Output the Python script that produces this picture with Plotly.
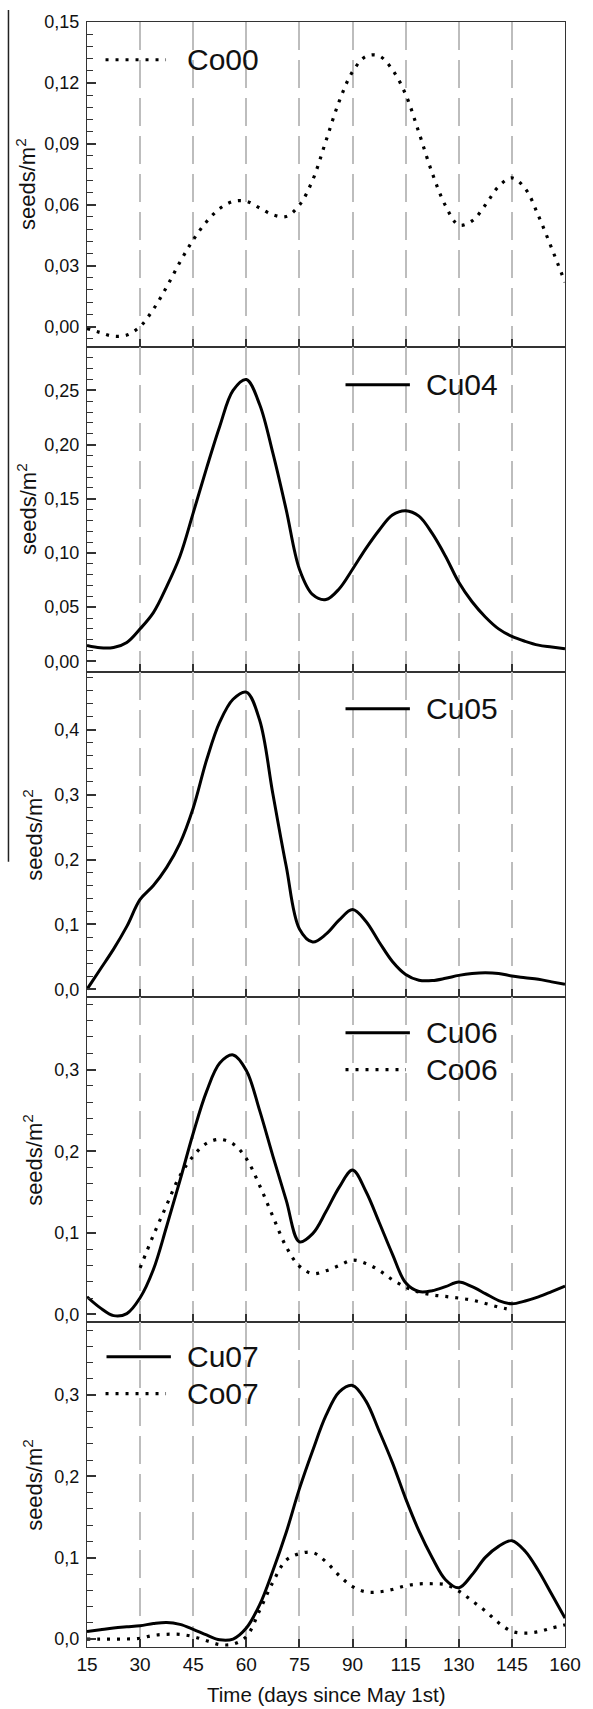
import numpy as np
import plotly.graph_objects as go
from plotly.subplots import make_subplots

# Axis tick days (evenly spaced on the axis, note the 90 -> 115 jump)
TICK_DAYS = [15, 30, 45, 60, 75, 90, 115, 130, 145, 160]

# Sampling days of the seed-rain curves
SAMPLE_DAYS = [15, 18.75, 22.5, 26.25, 30, 33.75, 37.5, 41.25, 45, 48.75,
               52.5, 56.25, 60, 63.75, 67.5, 71.25, 75, 78.75, 82.5, 86.25,
               90, 96.25, 102.5, 108.75, 115, 118.75, 122.5, 126.25, 130,
               133.75, 137.5, 141.25, 145, 148.75, 152.5, 156.25, 160]

# seeds/m2 per series
CO00 = [-0.001, -0.003, -0.0048, -0.0042, 0.0, 0.0085, 0.0195, 0.0317, 0.0427,
        0.0516, 0.0581, 0.0616, 0.0617, 0.0584, 0.0550, 0.0542, 0.0598, 0.0722,
        0.0915, 0.1110, 0.1255, 0.1330, 0.1333, 0.1265, 0.1143, 0.0955, 0.0756,
        0.0595, 0.0500, 0.0520, 0.0598, 0.0690, 0.0732, 0.0680, 0.0545, 0.0385,
        0.0218]

CU04 = [0.0147, 0.0125, 0.0128, 0.0175, 0.030, 0.045, 0.069, 0.097, 0.137,
        0.178, 0.217, 0.250, 0.260, 0.237, 0.192, 0.140, 0.085, 0.0615, 0.057,
        0.067, 0.085, 0.104, 0.121, 0.135, 0.139, 0.134, 0.118, 0.097, 0.073,
        0.055, 0.041, 0.030, 0.023, 0.0185, 0.015, 0.0133, 0.0116]

CU05 = [0.0, 0.031, 0.062, 0.097, 0.1385, 0.160, 0.188, 0.225, 0.2795, 0.353,
        0.412, 0.447, 0.458, 0.415, 0.301, 0.190, 0.093, 0.073, 0.085, 0.107,
        0.123, 0.105, 0.073, 0.043, 0.023, 0.014, 0.0135, 0.017, 0.0215, 0.0245,
        0.0257, 0.0245, 0.0205, 0.018, 0.0155, 0.0115, 0.0077]

CU06 = [0.0216, 0.008, -0.0015, 0.001, 0.0204, 0.055, 0.108, 0.164, 0.222,
        0.273, 0.308, 0.318, 0.299, 0.250, 0.194, 0.140, 0.089, 0.099, 0.126,
        0.156, 0.177, 0.151, 0.113, 0.074, 0.0387, 0.028, 0.029, 0.034, 0.0396,
        0.034, 0.0255, 0.017, 0.013, 0.0165, 0.0215, 0.028, 0.0347]

# Co06 runs from day 30 to day 145
CO06_DAYS = SAMPLE_DAYS[4:33]
CO06 = [0.057, 0.097, 0.134, 0.170, 0.194, 0.2096, 0.2145, 0.209, 0.191,
        0.158, 0.120, 0.083, 0.059, 0.050, 0.0535, 0.060, 0.0665, 0.0625,
        0.054, 0.0425, 0.0335, 0.0273, 0.024, 0.022, 0.020, 0.0175, 0.0134,
        0.009, 0.0055]

CU07 = [0.0094, 0.0115, 0.0135, 0.015, 0.0164, 0.019, 0.0204, 0.018, 0.012,
        0.005, -0.001, 0.0, 0.0135, 0.042, 0.084, 0.131, 0.185, 0.232, 0.275,
        0.304, 0.312, 0.293, 0.256, 0.217, 0.1727, 0.133, 0.100, 0.073, 0.063,
        0.079, 0.1005, 0.114, 0.121, 0.108, 0.084, 0.055, 0.0257]

CO07 = [0.0, 0.0, 0.0, 0.0, 0.001, 0.0045, 0.0058, 0.0057, 0.003, -0.002,
        -0.0068, -0.0063, 0.003, 0.035, 0.070, 0.097, 0.105, 0.1065, 0.095,
        0.078, 0.0645, 0.058, 0.058, 0.061, 0.0655, 0.0678, 0.068, 0.067,
        0.059, 0.047, 0.0345, 0.020, 0.0095, 0.0073, 0.009, 0.0135, 0.0175]

# panel: (series list, y range, major step, minor step, tick format)
PANELS = [
    ([("Co00", SAMPLE_DAYS, CO00, "dot")], [-0.0101, 0.15], 0.03, 0.006, ".2f"),
    ([("Cu04", SAMPLE_DAYS, CU04, "solid")], [-0.0098, 0.29], 0.05, 0.01, ".2f"),
    ([("Cu05", SAMPLE_DAYS, CU05, "solid")], [-0.0118, 0.489], 0.1, 0.02, ".1f"),
    ([("Cu06", SAMPLE_DAYS, CU06, "solid"), ("Co06", CO06_DAYS, CO06, "dot")],
     [-0.0093, 0.389], 0.1, 0.02, ".1f"),
    ([("Cu07", SAMPLE_DAYS, CU07, "solid"), ("Co07", SAMPLE_DAYS, CO07, "dot")],
     [-0.0098, 0.39], 0.1, 0.02, ".1f"),
]

W, H = 593, 1709
ML, MR, MT, MB = 87, 16, 12, 62
PW, PH = W - ML - MR, H - MT - MB

FONT = "Liberation Sans, Arial, sans-serif"
INK = "#111111"
AXIS = "#333333"
DOT_DASH = "3px,7px"


def day_to_pos(days):
    # piecewise-linear day axis: ticks are evenly spaced
    return np.interp(days, TICK_DAYS, np.arange(len(TICK_DAYS)))


def px(x):
    return (x - ML) / PW


def py(y):
    return (H - MB - y) / PH


fig = make_subplots(rows=5, cols=1, vertical_spacing=0, shared_xaxes=False)

for r, (series, yr, dt, mdt, fmt) in enumerate(PANELS, start=1):
    for name, days, vals, style in series:
        fig.add_trace(
            go.Scatter(
                x=day_to_pos(days), y=vals, mode="lines", name=name,
                line=dict(color="#000000", width=3 if style == "solid" else 3.2,
                          shape="spline", smoothing=1.0,
                          dash="solid" if style == "solid" else DOT_DASH),
                showlegend=False, hoverinfo="skip",
            ),
            row=r, col=1,
        )
    fig.update_yaxes(
        range=yr, dtick=dt, tick0=0, tickformat=fmt,
        showline=True, mirror=True, linecolor=AXIS, linewidth=1.3,
        ticks="inside", ticklen=9, tickwidth=1.5, tickcolor=AXIS,
        minor=dict(ticks="inside", ticklen=6, tickwidth=1.2, tickcolor=AXIS,
                   dtick=mdt, tick0=0, showgrid=False),
        showgrid=False, zeroline=False,
        tickfont=dict(family=FONT, size=18, color=INK),
        ticklabelstandoff=3,
        row=r, col=1,
    )
    fig.update_xaxes(
        range=[0, len(TICK_DAYS) - 1],
        tickvals=list(range(len(TICK_DAYS))),
        ticktext=[str(d) for d in TICK_DAYS],
        showticklabels=(r == 5),
        showline=True, mirror=True, linecolor=AXIS, linewidth=1.3,
        ticks="inside", ticklen=8, tickwidth=1.5, tickcolor=AXIS,
        showgrid=True, gridcolor="#bdbdbd", gridwidth=1.6, griddash="28px,10px",
        zeroline=False,
        tickfont=dict(family=FONT, size=19, color=INK),
        row=r, col=1,
    )

shapes = []
annotations = []

# per-panel legends: (label, dash style, x0, x1, y, text x) in page pixels
LEGENDS = [
    ("Co00", "dot", 106, 168, 50, 187),
    ("Cu04", "solid", 352, 418, 377, 432),
    ("Cu05", "solid", 352, 418, 703, 432),
    ("Cu06", "solid", 352, 418, 1029, 432),
    ("Co06", "dot", 352, 414, 1066, 432),
    ("Cu07", "solid", 107, 173, 1355, 187),
    ("Co07", "dot", 106, 168, 1392, 187),
]
for label, style, x0, x1, y, tx in LEGENDS:
    shapes.append(dict(
        type="line", xref="paper", yref="paper",
        x0=px(x0), x1=px(x1), y0=py(y), y1=py(y),
        line=dict(color="#000000", width=3 if style == "solid" else 3.2,
                  dash="solid" if style == "solid" else DOT_DASH),
    ))
    annotations.append(dict(
        text=label, xref="paper", yref="paper", x=px(tx), y=py(y),
        xanchor="left", yanchor="middle", showarrow=False,
        font=dict(family=FONT, size=30, color=INK),
    ))

# y-axis titles, one per panel
panel_tops = [MT + i * PH / 5 for i in range(5)]
title_x = [25, 25, 31, 31, 31]
for top, tx in zip(panel_tops, title_x):
    annotations.append(dict(
        text="seeds/m<sup>2</sup>", xref="paper", yref="paper",
        x=px(tx), y=py(top + PH / 10), xanchor="center", yanchor="middle",
        textangle=-90, showarrow=False,
        font=dict(family=FONT, size=22, color=INK),
    ))

# x-axis title
annotations.append(dict(
    text="Time (days since May 1st)", xref="paper", yref="paper",
    x=0.5, y=py(1695), xanchor="center", yanchor="middle", showarrow=False,
    font=dict(family=FONT, size=20.5, color=INK),
))

# thin rule along the left page edge
shapes.append(dict(type="line", xref="paper", yref="paper",
                   x0=px(6.5), x1=px(6.5), y0=py(0), y1=py(857),
                   line=dict(color="#222222", width=1.5)))

fig.update_layout(
    width=W, height=H,
    margin=dict(l=ML, r=MR, t=MT, b=MB, pad=0),
    paper_bgcolor="white", plot_bgcolor="white",
    separators=",.",
    showlegend=False,
    shapes=shapes, annotations=annotations,
    font=dict(family=FONT, color=INK),
)

fig.write_html("out.html")
